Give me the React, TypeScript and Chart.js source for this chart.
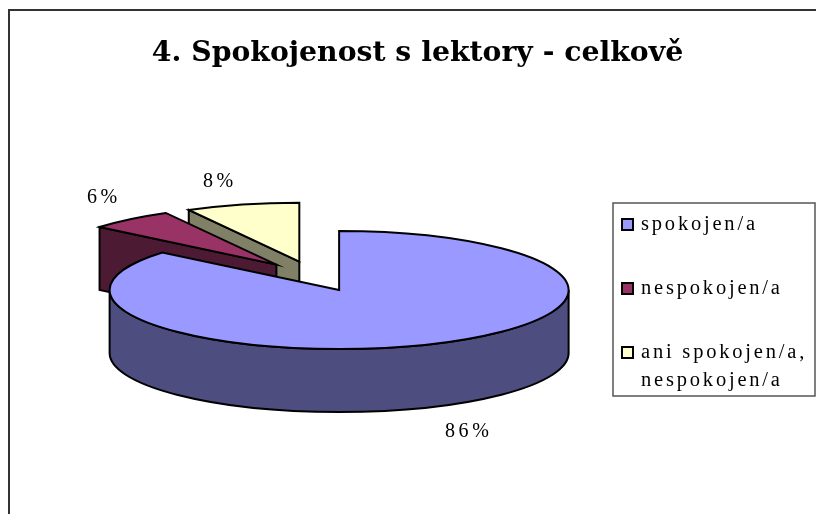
import React, { useEffect, useRef } from "react";
import { Chart, registerables } from "chart.js";

Chart.register(...registerables);

const TITLE = "4. Spokojenost s lektory - celkově";
const CATEGORIES = ["spokojen/a", "nespokojen/a", "ani spokojen/a, nespokojen/a"];
const LEGEND_LINES = [["spokojen/a"], ["nespokojen/a"], ["ani spokojen/a,", "nespokojen/a"]];
const VALUES = [86, 6, 8];
const TOP_COLORS = ["#9999FF", "#993366", "#FFFFCC"];
const WALL_COLORS = ["#4D4D80", "#4D1A33", "#808066"];

const SERIF = '"Liberation Serif", serif';
const CX = 314, CY = 276.3, RADIUS = 229.5, SQUASH = 0.257, DEPTH = 63, EXPLODE = 59;
const LABEL_POS = [[445, 437], [87, 203], [203, 187]];

const pie3d = {
  id: "pie3d",
  beforeDraw(chart: any) {
    const ctx = chart.ctx;
    ctx.save();
    ctx.fillStyle = "#fff";
    ctx.fillRect(0, 0, 816, 514);
    ctx.strokeStyle = "#333";
    ctx.lineWidth = 2;
    ctx.beginPath();
    ctx.moveTo(9, 514);
    ctx.lineTo(9, 10);
    ctx.lineTo(816, 10);
    ctx.stroke();
    ctx.restore();
  },
  beforeDatasetDraw(chart: any, args: any) {
    const ctx = chart.ctx;
    const arcs = chart.getDatasetMeta(args.index).data;
    ctx.save();
    ctx.lineJoin = "miter";
    ctx.lineWidth = 2;
    ctx.strokeStyle = "#000";
    for (let i = arcs.length - 1; i >= 0; i--) {
      const arc = arcs[i];
      const s = arc.startAngle, e = arc.endAngle, R = arc.outerRadius, mid = (s + e) / 2;
      const x0 = CX + EXPLODE * Math.cos(mid);
      const y0 = CY + SQUASH * EXPLODE * Math.sin(mid);
      const b = R * SQUASH;
      const px = (t: number) => x0 + R * Math.cos(t);
      const py = (t: number) => y0 + b * Math.sin(t);
      ctx.fillStyle = WALL_COLORS[i];
      if (Math.cos(s) < -1e-6) {
        ctx.beginPath();
        ctx.moveTo(x0, y0);
        ctx.lineTo(px(s), py(s));
        ctx.lineTo(px(s), py(s) + DEPTH);
        ctx.lineTo(x0, y0 + DEPTH);
        ctx.closePath();
        ctx.fill();
        ctx.stroke();
      }
      if (s < Math.PI && e > 0) {
        const a0 = Math.max(s, 0), a1 = Math.min(e, Math.PI);
        ctx.beginPath();
        ctx.ellipse(x0, y0, R, b, 0, a0, a1);
        ctx.ellipse(x0, y0 + DEPTH, R, b, 0, a1, a0, true);
        ctx.closePath();
        ctx.fill();
        ctx.stroke();
      }
      ctx.save();
      ctx.translate(x0, y0);
      ctx.scale(1, SQUASH);
      ctx.translate(-arc.x, -arc.y);
      arc.draw(ctx);
      ctx.restore();
      ctx.beginPath();
      ctx.moveTo(x0, y0);
      ctx.ellipse(x0, y0, R, b, 0, s, e);
      ctx.closePath();
      ctx.stroke();
    }
    ctx.restore();
    return false;
  },
  afterDraw(chart: any) {
    const ctx = chart.ctx;
    ctx.save();
    ctx.textBaseline = "alphabetic";
    ctx.textAlign = "left";
    ctx.fillStyle = "#000";
    ctx.font = `20px ${SERIF}`;
    (ctx as any).letterSpacing = "3.6px";
    VALUES.forEach((v, i) => ctx.fillText(`${v}%`, LABEL_POS[i][0], LABEL_POS[i][1]));

    ctx.strokeStyle = "#555";
    ctx.lineWidth = 1.5;
    ctx.fillStyle = "#fff";
    ctx.fillRect(613, 203, 202, 193);
    ctx.strokeRect(613, 203, 202, 193);
    const swatchY = [219, 283, 347];
    const baseY = [230, 294, 358];
    LEGEND_LINES.forEach((lines, i) => {
      ctx.fillStyle = TOP_COLORS[i];
      ctx.strokeStyle = "#000";
      ctx.lineWidth = 2;
      ctx.fillRect(622, swatchY[i], 11, 11);
      ctx.strokeRect(622, swatchY[i], 11, 11);
      ctx.fillStyle = "#000";
      ctx.font = `20.5px ${SERIF}`;
      (ctx as any).letterSpacing = "2.8px";
      lines.forEach((t, j) => ctx.fillText(t, 641, baseY[i] + j * 28));
    });
    ctx.restore();
  },
};

export default function App() {
  const ref = useRef<HTMLCanvasElement>(null);
  useEffect(() => {
    const chart = new Chart(ref.current as HTMLCanvasElement, {
      type: "pie",
      data: {
        labels: CATEGORIES,
        datasets: [
          {
            data: VALUES,
            backgroundColor: TOP_COLORS,
            borderWidth: 0,
            radius: RADIUS,
          } as any,
        ],
      },
      options: {
        responsive: false,
        animation: false,
        layout: { padding: { left: 19 } },
        plugins: {
          legend: { display: false },
          tooltip: { enabled: false },
          title: {
            display: true,
            text: TITLE,
            color: "#000",
            font: { family: '"DejaVu Serif", serif', size: 28.3, weight: "bold" },
            padding: { top: 37, bottom: 10 },
          },
        },
      },
      plugins: [pie3d as any],
    });
    return () => chart.destroy();
  }, []);
  return (
    <div style={{ position: "absolute", left: 0, top: 0, width: 816, height: 514 }}>
      <canvas ref={ref} width={816} height={514} style={{ display: "block" }} />
    </div>
  );
}
